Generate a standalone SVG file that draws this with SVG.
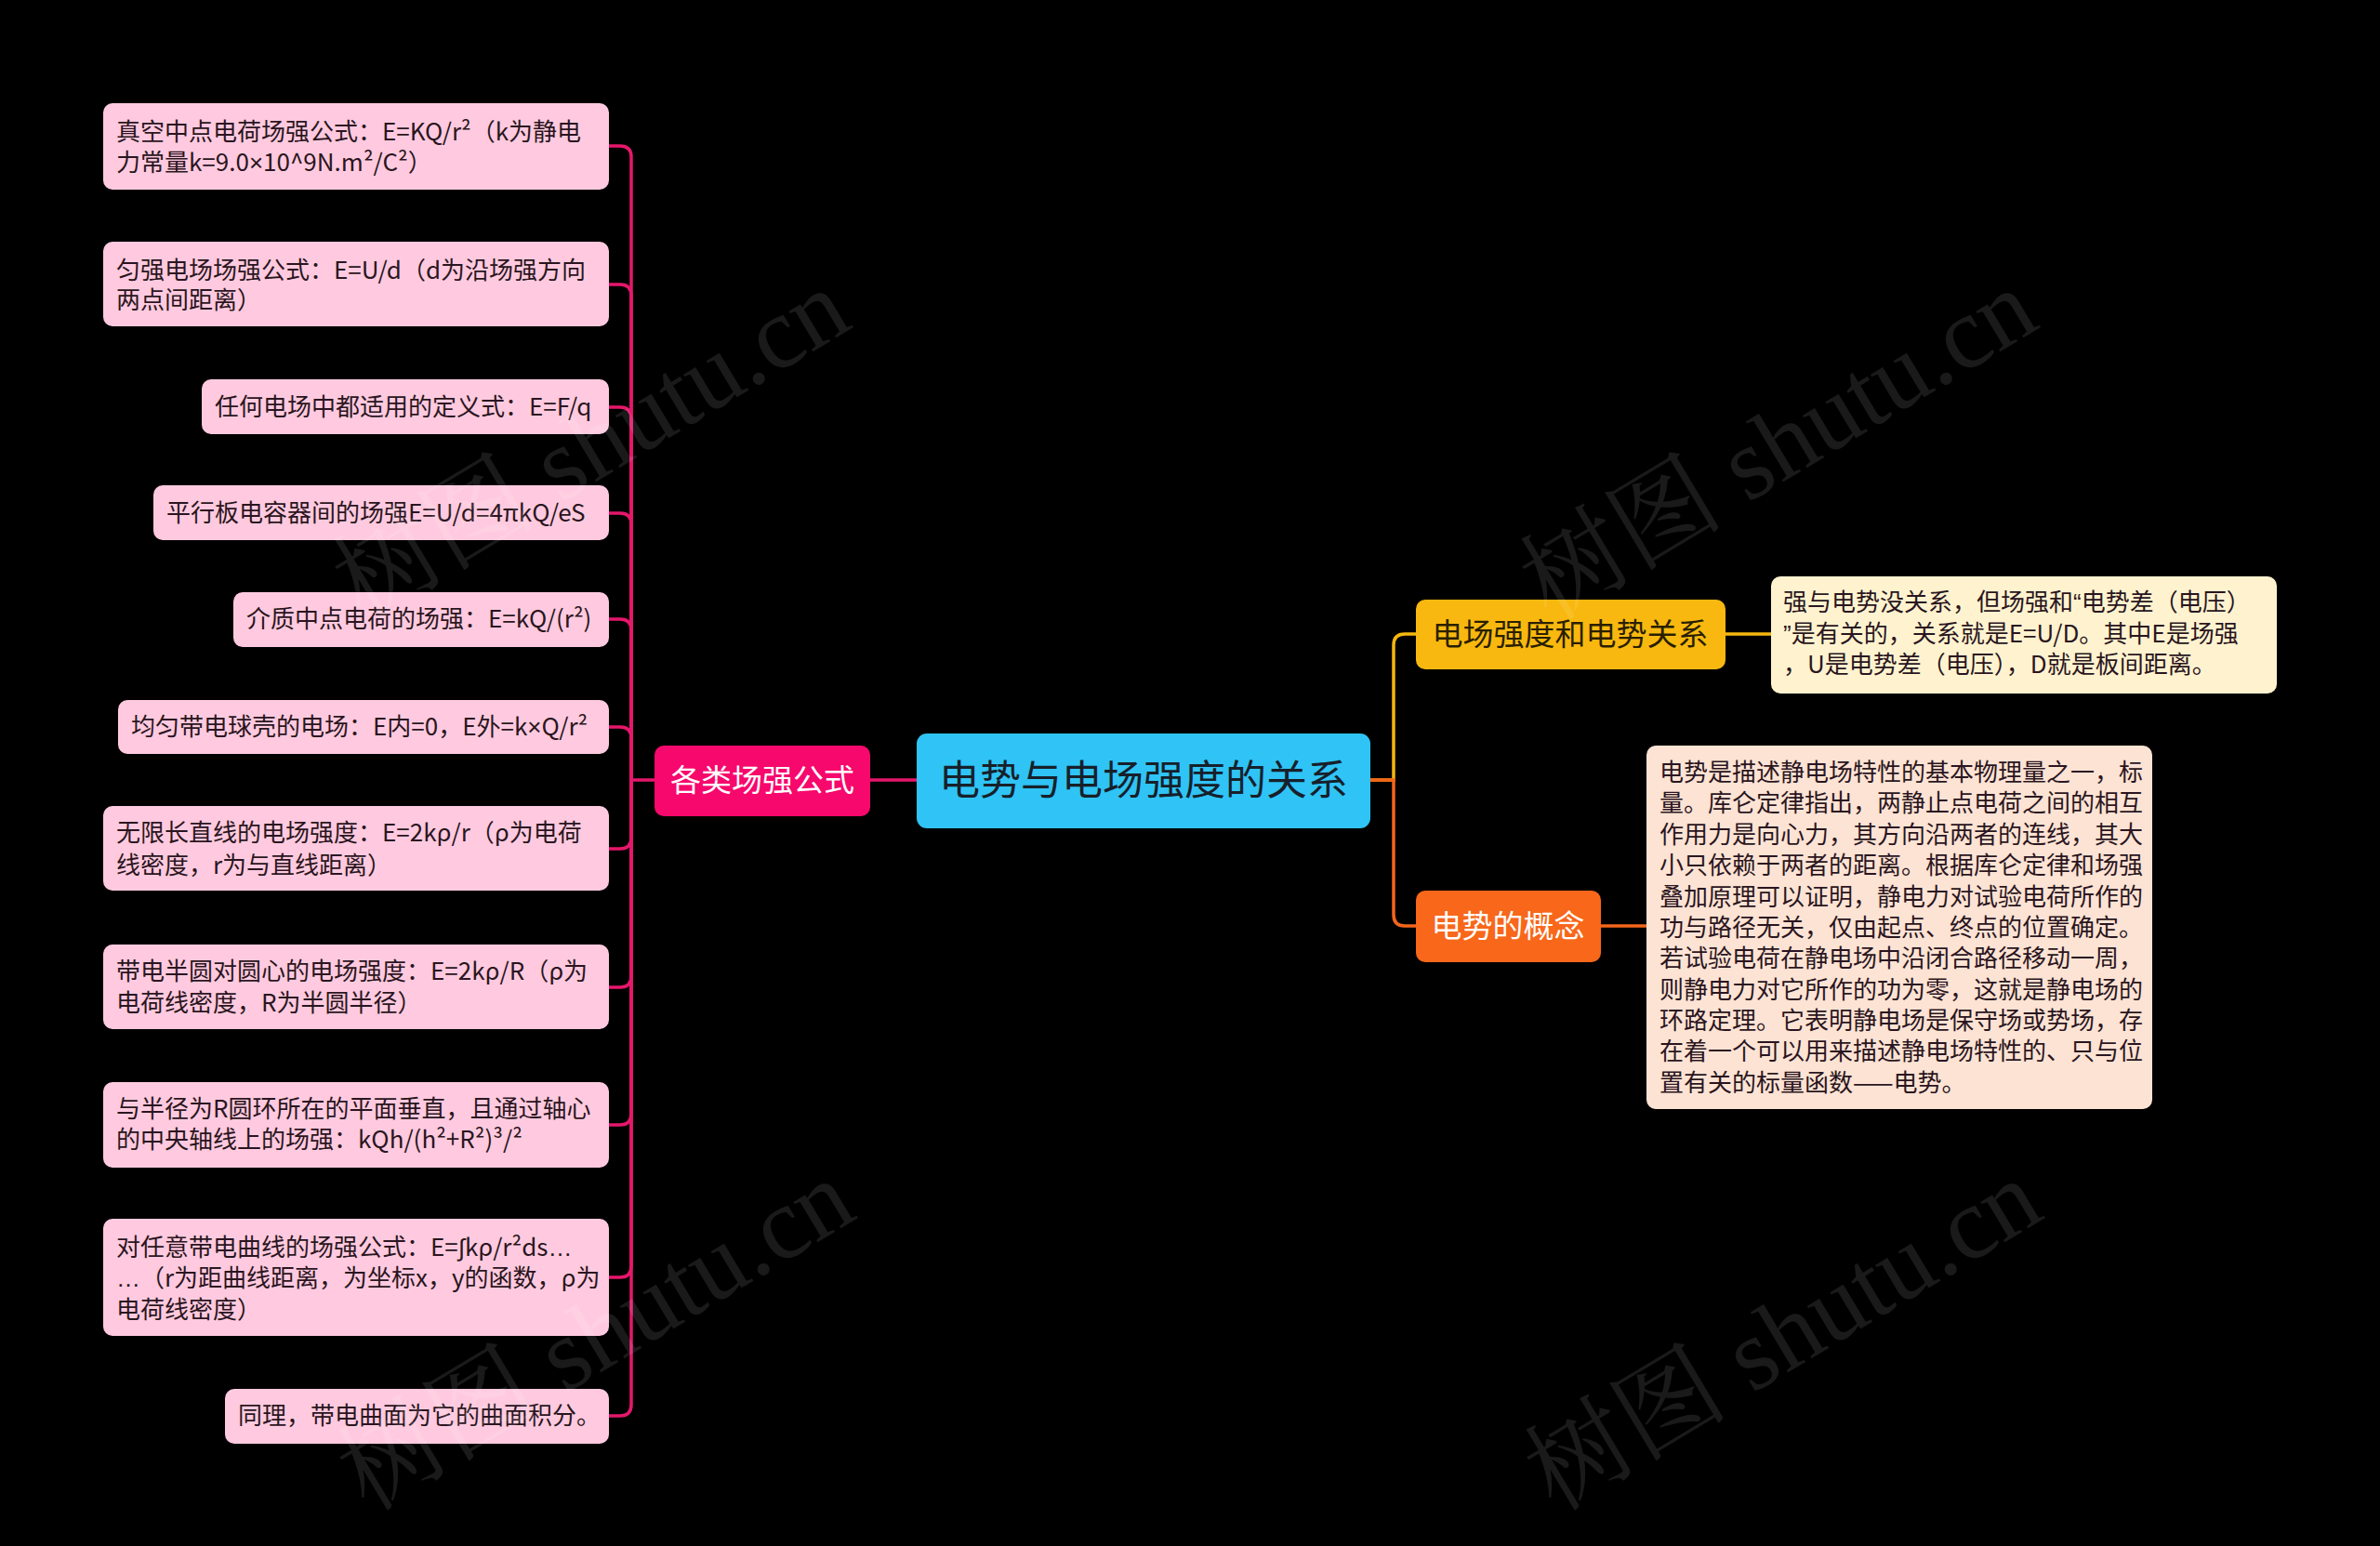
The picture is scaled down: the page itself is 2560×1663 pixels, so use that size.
<svg xmlns="http://www.w3.org/2000/svg" width="2560" height="1663" viewBox="0 0 2560 1663">
<defs>
<style>
text{font-family:"Noto Sans CJK SC","Noto Sans",sans-serif;}
.leaf{fill:#FFCADF;}
.lt{font-size:26px;fill:#2a1520;}
.lat{font-family:"Liberation Sans","Noto Sans",sans-serif;}
.c-pink{fill:none;stroke:#E5176B;stroke-width:3.5;}
.c-yel{fill:none;stroke:#F5B70F;stroke-width:3.5;}
.c-org{fill:none;stroke:#F4651A;stroke-width:3.5;}
.wm{font-family:"Liberation Serif","Noto Serif CJK SC","Noto Sans CJK SC",serif;font-size:110px;fill:#ffffff;fill-opacity:0.1;}
</style>
</defs>
<rect width="2560" height="1663" fill="#000000"/>

<g id="connectors">
<path class="c-pink" d="M704,839 H679"/>
<path class="c-pink" d="M679,839 V169 Q679,157 667,157 H655"/>
<path class="c-pink" d="M679,839 V318 Q679,306 667,306 H655"/>
<path class="c-pink" d="M679,839 V450 Q679,438 667,438 H655"/>
<path class="c-pink" d="M679,839 V564 Q679,552 667,552 H655"/>
<path class="c-pink" d="M679,839 V678 Q679,666 667,666 H655"/>
<path class="c-pink" d="M679,839 V794 Q679,782 667,782 H655"/>
<path class="c-pink" d="M679,839 V901 Q679,913 667,913 H655"/>
<path class="c-pink" d="M679,839 V1050 Q679,1062 667,1062 H655"/>
<path class="c-pink" d="M679,839 V1198 Q679,1210 667,1210 H655"/>
<path class="c-pink" d="M679,839 V1362 Q679,1374 667,1374 H655"/>
<path class="c-pink" d="M679,839 V1511 Q679,1523 667,1523 H655"/>
<path class="c-pink" d="M986,839 H936"/>
<path class="c-yel" d="M1474,839 H1499 V694 Q1499,682 1511,682 H1523"/>
<path class="c-org" d="M1474,839 H1499 V984 Q1499,996 1511,996 H1523"/>
<path class="c-yel" d="M1856,682 H1905"/>
<path class="c-org" d="M1722,996 H1771"/>
</g>

<g id="root">
<rect x="986" y="789" width="488" height="102" rx="11" fill="#2FC4F5"/>
<text x="1230" y="855" font-size="44" fill="#17202a" text-anchor="middle">电势与电场强度的关系</text>
</g>

<g id="branch-formulas">
<rect x="704" y="802" width="232" height="76" rx="10" fill="#F7086C"/>
<text x="820" y="851" font-size="33" fill="#ffffff" text-anchor="middle">各类场强公式</text>
</g>

<g id="branch-relation">
<rect x="1523" y="645" width="333" height="75" rx="10" fill="#F9B80F"/>
<text x="1689" y="694" font-size="33" fill="#2a1f00" text-anchor="middle">电场强度和电势关系</text>
</g>

<g id="branch-concept">
<rect x="1523" y="958" width="199" height="77" rx="10" fill="#F8671A"/>
<text x="1622" y="1008" font-size="33" fill="#ffffff" text-anchor="middle">电势的概念</text>
</g>

<g id="leaf-1">
<rect class="leaf" x="111" y="111" width="544" height="93" rx="10"/>
<text class="lt" x="125" y="151">真空中点电荷场强公式：E=KQ/r²（k为静电</text>
<text class="lt" x="125" y="184">力常量k=9.0<tspan class="lat">×</tspan>10^9N.m²/C²）</text>
</g>
<g id="leaf-2">
<rect class="leaf" x="111" y="260" width="544" height="91" rx="10"/>
<text class="lt" x="125" y="300">匀强电场场强公式：E=U/d（d为沿场强方向</text>
<text class="lt" x="125" y="332">两点间距离）</text>
</g>
<g id="leaf-3">
<rect class="leaf" x="217" y="408" width="438" height="59" rx="10"/>
<text class="lt" x="231" y="447">任何电场中都适用的定义式：E=F/q</text>
</g>
<g id="leaf-4">
<rect class="leaf" x="165" y="522" width="490" height="59" rx="10"/>
<text class="lt" x="179" y="561">平行板电容器间的场强E=U/d=4πkQ/eS</text>
</g>
<g id="leaf-5">
<rect class="leaf" x="251" y="637" width="404" height="59" rx="10"/>
<text class="lt" x="265" y="675">介质中点电荷的场强：E=kQ/(r²)</text>
</g>
<g id="leaf-6">
<rect class="leaf" x="127" y="753" width="528" height="58" rx="10"/>
<text class="lt" x="141" y="791">均匀带电球壳的电场：E内=0，E外=k<tspan class="lat">×</tspan>Q/r²</text>
</g>
<g id="leaf-7">
<rect class="leaf" x="111" y="867" width="544" height="91" rx="10"/>
<text class="lt" x="125" y="905">无限长直线的电场强度：E=2kρ/r（ρ为电荷</text>
<text class="lt" x="125" y="940">线密度，r为与直线距离）</text>
</g>
<g id="leaf-8">
<rect class="leaf" x="111" y="1016" width="544" height="91" rx="10"/>
<text class="lt" x="125" y="1054">带电半圆对圆心的电场强度：E=2kρ/R（ρ为</text>
<text class="lt" x="125" y="1088">电荷线密度，R为半圆半径）</text>
</g>
<g id="leaf-9">
<rect class="leaf" x="111" y="1164" width="544" height="92" rx="10"/>
<text class="lt" x="125" y="1202">与半径为R圆环所在的平面垂直，且通过轴心</text>
<text class="lt" x="125" y="1235">的中央轴线上的场强：kQh/(h²+R²)³/²</text>
</g>
<g id="leaf-10">
<rect class="leaf" x="111" y="1311" width="544" height="126" rx="10"/>
<text class="lt" x="125" y="1351">对任意带电曲线的场强公式：E=<tspan class="lat">∫</tspan>kρ/r²ds<tspan class="lat">…</tspan></text>
<text class="lt" x="125" y="1384"><tspan class="lat">…</tspan>（r为距曲线距离，为坐标x，y的函数，ρ为</text>
<text class="lt" x="125" y="1418">电荷线密度）</text>
</g>
<g id="leaf-11">
<rect class="leaf" x="242" y="1494" width="413" height="59" rx="10"/>
<text class="lt" x="256" y="1532">同理，带电曲面为它的曲面积分。</text>
</g>

<g id="leaf-relation">
<rect x="1905" y="620" width="544" height="126" rx="10" fill="#FFF3CF"/>
<text class="lt" x="1918" y="657">强与电势没关系，但场强和<tspan class="lat">“</tspan>电势差（电压）</text>
<text class="lt" x="1918" y="691"><tspan class="lat">”</tspan>是有关的，关系就是E=U/D。其中E是场强</text>
<text class="lt" x="1918" y="724">，U是电势差（电压），D就是板间距离。</text>
</g>

<g id="leaf-concept">
<rect x="1771" y="802" width="544" height="391" rx="10" fill="#FDE3D4"/>
<text class="lt" x="1785" y="840">电势是描述静电场特性的基本物理量之一，标</text>
<text class="lt" x="1785" y="873">量。库仑定律指出，两静止点电荷之间的相互</text>
<text class="lt" x="1785" y="907">作用力是向心力，其方向沿两者的连线，其大</text>
<text class="lt" x="1785" y="940">小只依赖于两者的距离。根据库仑定律和场强</text>
<text class="lt" x="1785" y="974">叠加原理可以证明，静电力对试验电荷所作的</text>
<text class="lt" x="1785" y="1007">功与路径无关，仅由起点、终点的位置确定。</text>
<text class="lt" x="1785" y="1040">若试验电荷在静电场中沿闭合路径移动一周，</text>
<text class="lt" x="1785" y="1074">则静电力对它所作的功为零，这就是静电场的</text>
<text class="lt" x="1785" y="1107">环路定理。它表明静电场是保守场或势场，存</text>
<text class="lt" x="1785" y="1140">在着一个可以用来描述静电场特性的、只与位</text>
<text class="lt" x="1785" y="1174">置有关的标量函数——电势。</text>
</g>

<g id="watermarks">
<text class="wm" x="655" y="510" text-anchor="middle" transform="rotate(-31 655 510)">树图 shutu.cn</text>
<text class="wm" x="1932" y="510" text-anchor="middle" transform="rotate(-31 1932 510)">树图 shutu.cn</text>
<text class="wm" x="660" y="1468" text-anchor="middle" transform="rotate(-31 660 1468)">树图 shutu.cn</text>
<text class="wm" x="1937" y="1468" text-anchor="middle" transform="rotate(-31 1937 1468)">树图 shutu.cn</text>
</g>
</svg>
